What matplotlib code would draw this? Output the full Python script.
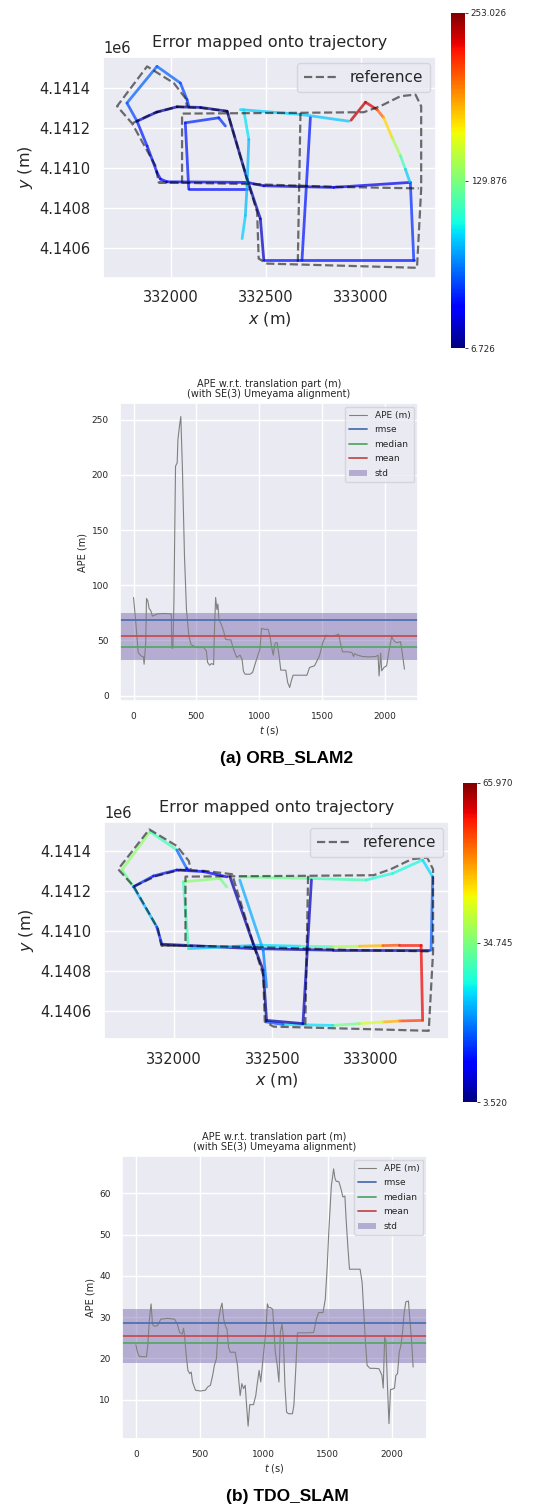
import numpy as np
import matplotlib
matplotlib.use("Agg")
import matplotlib.pyplot as plt
import seaborn as sns
from matplotlib.collections import LineCollection
import matplotlib.colors as mcolors
import matplotlib.cm as cm

sns.set_theme(style="darkgrid")
plt.rcParams['font.family'] = ['DejaVu Sans']

# ---------------- reference trajectory (shared) ----------------
ref_x = [331795, 331910, 332032, 332160, 332295, 332400, 332453, 332461, 332505, 333294, 333316, 333316,
         333286, 333207, 333101, 333014, 332681, 332058, 332058, 331935, 331918, 331795,
         331716, 331874, 332014, 332075, 332084, np.nan,
         331935, 332400, 332900, 333303, np.nan,
         332681, 332667]
ref_y = [4141223, 4141275, 4141306, 4141300, 4141284, 4140945, 4140779, 4140547, 4140522, 4140501, 4140895, 4141309,
         4141367, 4141359, 4141309, 4141279, 4141276, 4141272, 4140925, 4140928, 4141011, 4141223,
         4141309, 4141508, 4141425, 4141350, 4141309, np.nan,
         4140928, 4140920, 4140905, 4140898, np.nan,
         4141276, 4140531]

# ---------------- ORB_SLAM2 estimate (polylines with error per vertex) ----------------
orb_x = [
    [331821, 331768, 331926, 332049, 332084, 332093],
    [331821, 331926, 332032, 332155, 332295],
    [331821, 331874, 331926, 331944, 331979, 332400, 332488, 332856, 333259],
    [332286, 332251, 332075, 332093, 332400],
    [332295, 332400, 332470, 332488],
    [332488, 333277, 333259],
    [332365, 332681, 332935],
    [332947, 333023, 333084, 333119, 333163, 333207, 333233, 333256],
    [332733, 332689],
    [332382, 332409, 332400, 332391, 332374],
]
orb_y = [
    [4141234, 4141325, 4141508, 4141425, 4141342, 4141309],
    [4141234, 4141280, 4141306, 4141303, 4141284],
    [4141234, 4141110, 4140978, 4140945, 4140931, 4140928, 4140911, 4140903, 4140928],
    [4141210, 4141251, 4141226, 4140895, 4140895],
    [4141284, 4140945, 4140746, 4140539],
    [4140539, 4140539, 4140928],
    [4141292, 4141268, 4141234],
    [4141239, 4141329, 4141292, 4141251, 4141152, 4141061, 4140994, 4140931],
    [4141251, 4140539],
    [4141292, 4141143, 4140911, 4140762, 4140647],
]
orb_err = [
    [50, 58, 65, 58, 50, 45],
    [25, 20, 18, 16, 15],
    [45, 42, 40, 40, 35, 30, 18, 28, 35],
    [50, 48, 45, 40, 40],
    [12, 10, 20, 25],
    [35, 45, 50],
    [95, 80, 90],
    [230, 248, 220, 190, 160, 125, 100, 75],
    [45, 40],
    [100, 85, 80, 85, 90],
]
orb_range = [6.726, 253.026]

# ---------------- TDO_SLAM estimate ----------------
tdo_x = [
    [331794, 331735, 331878, 332014, 332064, 332073],
    [331794, 331912, 331938],
    [331794, 331895, 332014, 332149, 332267],
    [331938, 332402, 332807, 333297],
    [332073, 332436, 332639, 332807, 332942, 333061, 333145, 333255, 333263, 333145, 333061, 332942, 332807, 332554, 332470],
    [332267, 332233, 332047, 332073],
    [332284, 332402, 332453, 332470, 332655],
    [332334, 332453, 332470],
    [332334, 332689, 332976, 333111, 333263, 333314, 333306],
    [332698, 332655],
]
tdo_y = [
    [4141221, 4141305, 4141497, 4141405, 4141313, 4141305],
    [4141221, 4141021, 4140934],
    [4141221, 4141275, 4141305, 4141297, 4141271],
    [4140934, 4140912, 4140904, 4140904],
    [4140912, 4140929, 4140924, 4140921, 4140924, 4140927, 4140929, 4140929, 4140553, 4140550, 4140545, 4140537, 4140528, 4140533, 4140545],
    [4141221, 4141263, 4141246, 4140912],
    [4141271, 4140937, 4140804, 4140553, 4140537],
    [4141255, 4140904, 4140720],
    [4141271, 4141263, 4141255, 4141288, 4141355, 4141271, 4140904],
    [4141255, 4140537],
]
tdo_err = [
    [30, 36, 36, 25, 10, 8],
    [28, 18, 10],
    [14, 13, 12, 11, 10],
    [6, 6, 7, 8],
    [25, 22, 28, 33, 44, 52, 58, 60, 60, 52, 45, 38, 30, 20, 12],
    [33, 35, 36, 25],
    [6, 5, 4, 5, 6],
    [24, 20, 18],
    [34, 33, 28, 27, 27, 22, 12],
    [8, 6],
]
tdo_range = [3.520, 65.970]

# ---------------- APE time series ----------------
orb_t = [0, 18, 37, 58, 79, 84, 97, 103, 113, 124, 137, 150, 190, 242, 300, 305, 313, 321, 334, 347,
         353, 366, 376, 389, 405, 421, 440, 458, 505, 558, 579, 589, 605, 621, 637, 642, 653, 663, 671, 679,
         697, 716, 732, 750, 774, 795, 821, 847, 863, 874, 887, 926, 947, 979, 1005, 1018, 1045, 1071, 1084, 1097,
         1111, 1126, 1142, 1158, 1171, 1211, 1226, 1242, 1255, 1269, 1321, 1379, 1400, 1440, 1479, 1505, 1532, 1571, 1611, 1632,
         1650, 1663, 1703, 1737, 1750, 1758, 1782, 1821, 1874, 1927, 1945, 1953, 1966, 1974, 1992, 2013, 2032, 2053, 2071, 2092,
         2124, 2137, 2155]
orb_ape = [88.9, 66, 39, 36, 35, 28.4, 48, 88, 86, 79, 77, 72, 74, 74.4, 74, 43, 43, 84, 208, 211,
           232, 245, 253.0, 205, 127, 78, 54, 46, 43.5, 43.5, 40.5, 30, 27.5, 29, 28, 54, 88.9, 78, 83, 69,
           64.7, 58.6, 51, 50.5, 50.5, 42, 34.5, 36.6, 33, 22, 19.3, 19.3, 21, 33, 42, 60.8, 60, 60, 54, 45,
           36.6, 47.5, 48, 36, 23, 23, 11.8, 7.3, 13.3, 18.4, 18.4, 18.4, 25.4, 27, 36, 48, 54.7, 53.5, 54.7, 55.6,
           45, 39.6, 39.6, 39, 35.4, 38, 36.6, 35.4, 35, 35.4, 36.6, 17.8, 38.4, 22.4, 25.4, 27, 40.5, 53.2, 49.6, 48,
           48.7, 39, 23.9]
orb_stats = {"rmse": 68.3, "median": 43.9, "mean": 53.6, "std": 21.5}

tdo_t = [0, 13, 26, 52, 83, 93, 106, 119, 130, 142, 168, 181, 194, 246, 303, 324, 342, 363, 373, 381,
         394, 407, 422, 433, 443, 466, 505, 544, 562, 583, 601, 614, 630, 648, 661, 674, 687, 700, 713, 725,
         738, 777, 795, 806, 816, 829, 842, 855, 868, 878, 891, 920, 938, 948, 964, 977, 997, 1016, 1029, 1039,
         1054, 1070, 1075, 1091, 1106, 1119, 1130, 1143, 1153, 1166, 1179, 1194, 1225, 1236, 1251, 1264, 1295, 1347, 1391, 1412,
         1430, 1464, 1482, 1497, 1510, 1529, 1547, 1557, 1567, 1588, 1606, 1619, 1635, 1645, 1658, 1671, 1697, 1754, 1770, 1783,
         1796, 1809, 1822, 1832, 1866, 1902, 1925, 1935, 1946, 1956, 1967, 1980, 1992, 2003, 2023, 2034, 2047, 2060, 2073, 2086,
         2099, 2112, 2132, 2143, 2156, 2169]
tdo_ape = [23.3, 21.5, 20.5, 20.4, 20.4, 23.1, 29.5, 33.2, 28.3, 27.8, 27.9, 28.6, 29.5, 29.7, 29.5, 28.3, 26.3, 25.9, 27.3, 25.5,
           20.7, 17.1, 16.3, 16.7, 14.3, 12.3, 12.1, 12.3, 13.1, 13.5, 15.9, 18.3, 19.9, 29.5, 31.9, 33.4, 29.5, 27.9, 27.1, 22.7,
           21.5, 21.5, 18.3, 14.3, 11.0, 13.9, 12.7, 13.5, 7.8, 3.6, 8.8, 8.8, 11.0, 13.5, 17.1, 14.3, 20.7, 26.3, 33.2, 32.3,
           32.3, 31.9, 29.5, 21.5, 18.3, 14.3, 26.3, 28.3, 25.5, 13.5, 7.0, 6.6, 6.6, 8.6, 17.5, 26.2, 26.2, 26.2, 26.3, 29.5,
           31.1, 31.1, 34.4, 42.4, 51.2, 61.7, 65.9, 63.7, 62.9, 62.8, 60.9, 59.1, 59.3, 53.6, 47.2, 41.6, 41.6, 41.6, 38.4, 31.1,
           23.9, 18.3, 17.9, 17.6, 17.6, 17.5, 15.9, 12.8, 25.1, 24.3, 14.3, 4.2, 12.5, 12.5, 12.8, 15.9, 16.3, 21.5, 23.1, 26.3,
           31.1, 33.7, 33.9, 29.5, 24.7, 17.9]
tdo_stats = {"rmse": 28.5, "median": 23.8, "mean": 25.4, "std": 6.5}

captions = ["(a) ORB_SLAM2", "(b) TDO_SLAM"]

# ---------------- figure ----------------
W, H = 551, 1509
fig = plt.figure(figsize=(W / 100, H / 100), dpi=100)
fig.patch.set_facecolor("white")


def ax_px(l, t, r, b):
    return fig.add_axes([l / W, 1 - b / H, (r - l) / W, (b - t) / H])


TXT = "0.15"


def traj_panel(box, cbox, xs, ys, errs, erange, xlim, ylim):
    ax = ax_px(*box)
    norm = mcolors.Normalize(vmin=erange[0], vmax=erange[1])
    for px, py, pe in zip(xs, ys, errs):
        pts = np.column_stack([px, py])
        segs = np.stack([pts[:-1], pts[1:]], axis=1)
        e = np.asarray(pe, float)
        vals = 0.5 * (e[:-1] + e[1:])
        lc = LineCollection(segs, cmap="jet", norm=norm, linewidths=2.0, alpha=0.72,
                            capstyle="round", joinstyle="round")
        lc.set_array(vals)
        ax.add_collection(lc)
    ax.plot(ref_x, ref_y, ls="--", color="black", alpha=0.55, lw=1.6, label="reference", zorder=3)
    ax.set_xlim(*xlim)
    ax.set_ylim(*ylim)
    ax.set_xticks([332000, 332500, 333000])
    ax.set_yticks([4140600, 4140800, 4141000, 4141200, 4141400])
    ax.ticklabel_format(useOffset=False)
    ax.tick_params(labelsize=10.5, colors=TXT, pad=3)
    ax.yaxis.get_offset_text().set_fontsize(10.5)
    ax.set_title("Error mapped onto trajectory", fontsize=11.5, color=TXT, pad=7)
    ax.set_xlabel("$x$ (m)", fontsize=11.5, color=TXT, labelpad=3)
    ax.set_ylabel("$y$ (m)", fontsize=11.5, color=TXT, labelpad=3)
    leg = ax.legend(loc="upper right", fontsize=11, frameon=True, handlelength=2.2,
                    borderpad=0.45, borderaxespad=0.4)
    leg.get_frame().set_facecolor("#EAEAF2")
    leg.get_frame().set_edgecolor("#D0D0D8")
    for txt in leg.get_texts():
        txt.set_color(TXT)
    cax = ax_px(*cbox)
    sm = cm.ScalarMappable(norm=norm, cmap="jet")
    mid = 0.5 * (erange[0] + erange[1])
    cb = fig.colorbar(sm, cax=cax, ticks=[erange[0], mid, erange[1]], format="%.3f")
    cb.outline.set_visible(False)
    cax.tick_params(labelsize=6.3, length=2.5, width=0.6, right=True, colors=TXT, pad=1.5)
    return ax


def ape_panel(box, t, ape, st, yticks):
    ax = ax_px(*box)
    ax.plot(t, ape, color="gray", lw=0.8, label="APE (m)")
    ax.axhline(st["rmse"], color="#4C72B0", lw=1.3, label="rmse")
    ax.axhline(st["median"], color="#55A868", lw=1.3, label="median")
    ax.axhline(st["mean"], color="#C44E52", lw=1.3, label="mean")
    ax.axhspan(st["mean"] - st["std"], st["mean"] + st["std"], color="#8172B2", alpha=0.5,
               lw=0, label="std")
    ax.set_xticks([0, 500, 1000, 1500, 2000])
    ax.set_yticks(yticks)
    ax.tick_params(labelsize=6.5, colors=TXT, pad=2)
    ax.set_xlabel("$t$ (s)", fontsize=7, color=TXT, labelpad=2)
    ax.set_ylabel("APE (m)", fontsize=7, color=TXT, labelpad=3)
    ax.set_title("APE w.r.t. translation part (m)\n(with SE(3) Umeyama alignment)",
                 fontsize=7, color=TXT, pad=4, linespacing=1.1)
    leg = ax.legend(loc="upper right", fontsize=6.5, frameon=True, handlelength=2.0,
                    borderpad=0.45, labelspacing=0.62, borderaxespad=0.4)
    leg.get_frame().set_facecolor("#EAEAF2")
    leg.get_frame().set_edgecolor("#D0D0D8")
    for txt in leg.get_texts():
        txt.set_color(TXT)
    return ax


traj_panel((103, 57, 436, 278), (451, 13, 465, 348), orb_x, orb_y, orb_err, orb_range,
           (331642, 333394), (4140450, 4141555))
ape_panel((120, 403, 418, 701), orb_t, orb_ape, orb_stats, [0, 50, 100, 150, 200, 250])
traj_panel((104, 822, 449, 1039), (463, 783, 477, 1102), tdo_x, tdo_y, tdo_err, tdo_range,
           (331644, 333397), (4140460, 4141545))
ape_panel((122, 1156, 427, 1439), tdo_t, tdo_ape, tdo_stats, [10, 20, 30, 40, 50, 60])

fig.text(287 / W, 1 - 758 / H, captions[0], ha="center", va="center", fontsize=12.5,
         fontweight="bold", family="Liberation Sans", color="black")
fig.text(287 / W, 1 - 1497 / H, captions[1], ha="center", va="center", fontsize=12.5,
         fontweight="bold", family="Liberation Sans", color="black")

fig.savefig("out.png", dpi=100, facecolor="white")
